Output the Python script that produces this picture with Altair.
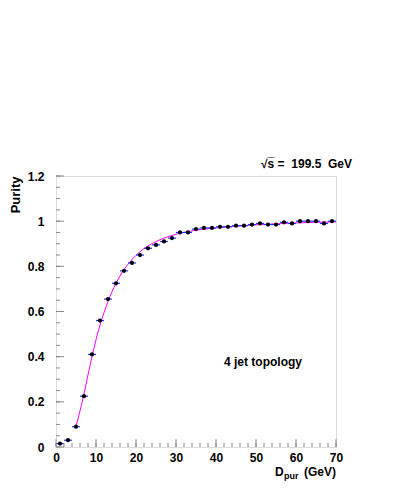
import altair as alt
import pandas as pd

# data
x_bins = [1, 3, 5, 7, 9, 11, 13, 15, 17, 19, 21, 23, 25, 27, 29, 31, 33, 35,
          37, 39, 41, 43, 45, 47, 49, 51, 53, 55, 57, 59, 61, 63, 65, 67, 69]
purity = [0.015, 0.03, 0.09, 0.225, 0.41, 0.56, 0.655, 0.725, 0.78, 0.815,
          0.85, 0.88, 0.895, 0.91, 0.925, 0.95, 0.95, 0.965, 0.97, 0.97,
          0.975, 0.975, 0.98, 0.98, 0.985, 0.99, 0.985, 0.985, 0.995, 0.99,
          1.0, 1.0, 1.0, 0.99, 1.0]
half_width = [1.0] * len(x_bins)

fit_x = [5, 6, 7, 8, 9, 10, 11, 12, 13, 15, 17, 19, 21, 23, 25, 27, 30, 35, 40, 45, 50, 55, 60, 65, 70]
fit_y = [0.09, 0.16, 0.235, 0.32, 0.40, 0.475, 0.54, 0.595, 0.645, 0.725, 0.785,
         0.83, 0.865, 0.89, 0.91, 0.925, 0.942, 0.96, 0.97, 0.978, 0.984, 0.988,
         0.992, 0.995, 0.997]

y_major = [0, 0.2, 0.4, 0.6, 0.8, 1.0, 1.2]
y_minor = [i * 0.05 for i in range(25)]
x_major = [0, 10, 20, 30, 40, 50, 60, 70]
x_minor = [i * 2 for i in range(36)]

pts = pd.DataFrame({"x": x_bins, "y": purity, "hw": half_width})
pts["xlo"] = pts["x"] - pts["hw"]
pts["xhi"] = pts["x"] + pts["hw"]
fit = pd.DataFrame({"x": fit_x, "y": fit_y})

W, H = 280, 271
FONT = "Liberation Sans"

xs = alt.Scale(domain=[0, 70], nice=False, zero=False)
ys = alt.Scale(domain=[0, 1.2], nice=False, zero=False)

xaxis = alt.Axis(values=x_major, ticks=False, domain=False, grid=False, title=None,
                 labelFont=FONT, labelFontWeight="bold", labelFontSize=12,
                 labelColor="black", labelPadding=5, format="d",
                 labelOverlap=False, labelFlush=False, labelBound=False)
yaxis = alt.Axis(values=y_major, ticks=False, domain=False, grid=False,
                 title="Purity", titleFont=FONT, titleFontWeight="bold",
                 titleFontSize=13, titleColor="black", titleAnchor="end",
                 titlePadding=5,
                 labelFont=FONT, labelFontWeight="bold", labelFontSize=12,
                 labelColor="black", labelPadding=12, labelOverlap=False,
                 labelFlush=False, labelBound=False,
                 labelExpr="datum.value == 0 ? '0' : (datum.value == 1 ? '1' : format(datum.value, '.1f'))")

fit_line = alt.Chart(fit).mark_line(color="#ff00ff", strokeWidth=1, interpolate="monotone").encode(
    x=alt.X("x:Q", scale=xs, axis=xaxis),
    y=alt.Y("y:Q", scale=ys, axis=yaxis),
)

err = alt.Chart(pts).mark_rule(color="#2233ff", strokeWidth=1.2).encode(
    x=alt.X("xlo:Q", scale=xs, axis=xaxis), x2="xhi:Q", y=alt.Y("y:Q", scale=ys, axis=yaxis)
)

dots = alt.Chart(pts).mark_circle(color="black", size=18, opacity=1).encode(
    x=alt.X("x:Q", scale=xs, axis=xaxis), y=alt.Y("y:Q", scale=ys, axis=yaxis)
)

ymin_df = pd.DataFrame({"v": y_minor})
ymaj_df = pd.DataFrame({"v": y_major})
xmin_df = pd.DataFrame({"v": x_minor})
xmaj_df = pd.DataFrame({"v": x_major})
tick_col = "#888888"

ymin_t = alt.Chart(ymin_df).mark_rule(color=tick_col, strokeWidth=1).encode(
    y=alt.Y("v:Q", scale=ys, axis=yaxis), x=alt.value(0), x2=alt.value(4))
ymaj_t = alt.Chart(ymaj_df).mark_rule(color=tick_col, strokeWidth=1).encode(
    y=alt.Y("v:Q", scale=ys, axis=yaxis), x=alt.value(0), x2=alt.value(8))
xmin_t = alt.Chart(xmin_df).mark_rule(color=tick_col, strokeWidth=1).encode(
    x=alt.X("v:Q", scale=xs, axis=xaxis), y=alt.value(H), y2=alt.value(H - 4))
xmaj_t = alt.Chart(xmaj_df).mark_rule(color=tick_col, strokeWidth=1).encode(
    x=alt.X("v:Q", scale=xs, axis=xaxis), y=alt.value(H), y2=alt.value(H - 8))

def label(text, x, y, size=12, align="left"):
    return alt.Chart(pd.DataFrame({"t": [text]})).mark_text(
        font=FONT, fontWeight="bold", fontSize=size, color="black",
        align=align, baseline="alphabetic").encode(
        text="t:N", x=alt.value(x), y=alt.value(y))

NB = "\u00a0"
xt_D = label("D", 219, 300, 12)
xt_sub = label("pur", 228, 303, 9)
xt_gev = label("(GeV)", 280, 300, 12, align="right")
topo = label("4 jet topology", 168, 190, 12)
energy = label("\u221as\u0305" + NB + "=" + NB + NB + "199.5" + NB + NB + "GeV", 296, -8, 12, align="right")

chart = alt.layer(fit_line, err, dots, ymin_t, ymaj_t, xmin_t, xmaj_t,
                  xt_D, xt_sub, xt_gev, topo, energy).properties(
    width=W, height=H,
    autosize=alt.AutoSizeParams(type="none"),
    padding={"left": 48, "top": 168, "right": 59, "bottom": 36},
).configure_view(stroke="#888888", strokeWidth=1.5).configure(background="white")

chart.save("out.html", embed_options={"renderer": "svg", "actions": False})
